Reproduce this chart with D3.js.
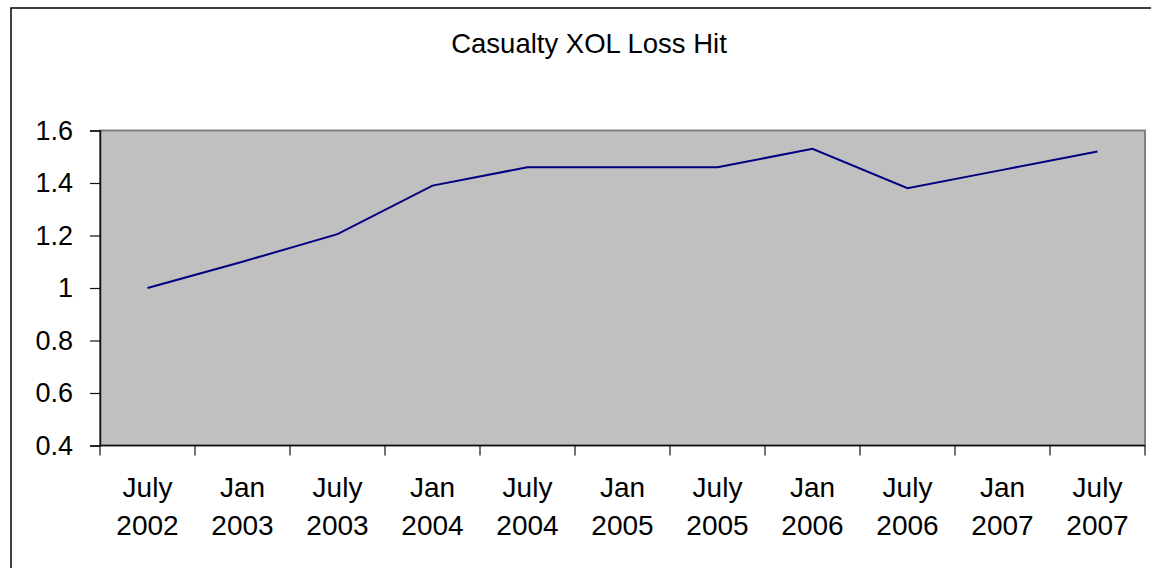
<!DOCTYPE html>
<html>
<head>
<meta charset="utf-8">
<script src="https://cdn.jsdelivr.net/npm/d3@7"></script>
<style>
  body { margin: 0; background: #fff; }
  text { font-family: "Liberation Sans", Arial, sans-serif; fill: #000; }
</style>
</head>
<body>
<div id="container"></div>
<script>
/* DATA */
const months = ["July 2002", "Jan 2003", "July 2003", "Jan 2004", "July 2004", "Jan 2005",
                "July 2005", "Jan 2006", "July 2006", "Jan 2007", "July 2007"];
const lossHit = [1.0, 1.1, 1.205, 1.39, 1.46, 1.46, 1.46, 1.53, 1.38, 1.45, 1.52];
const yTicks = [0.4, 0.6, 0.8, 1, 1.2, 1.4, 1.6];

/* CONSTANTS */
const width = 1151, height = 568;
const plot = { left: 100, right: 1145, top: 130.5, bottom: 445.5 };

const svg = d3.select("#container")
  .append("svg")
  .attr("width", width)
  .attr("height", height);

// outer frame (runs off the right and bottom edge)
svg.append("rect")
  .attr("x", 11).attr("y", 8)
  .attr("width", 1200).attr("height", 600)
  .attr("fill", "none")
  .attr("stroke", "#000")
  .attr("stroke-width", 1.5);

/* SCALES */
const xScale = d3.scaleBand()
  .domain(months)
  .range([plot.left, plot.right])
  .padding(0);

const yScale = d3.scaleLinear()
  .domain([0.4, 1.6])
  .range([plot.bottom, plot.top]);

// plot area
svg.append("rect")
  .attr("x", plot.left).attr("y", plot.top)
  .attr("width", plot.right - plot.left)
  .attr("height", plot.bottom - plot.top)
  .attr("fill", "#c0c0c0")
  .attr("stroke", "#808080")
  .attr("stroke-width", 2);

// title
svg.append("text")
  .attr("x", 589).attr("y", 53)
  .attr("text-anchor", "middle")
  .style("font-size", "27.5px")
  .text("Casualty XOL Loss Hit");

// y axis
const yAxis = d3.axisLeft(yScale)
  .tickValues(yTicks)
  .tickSize(10)
  .tickPadding(17)
  .tickFormat(d3.format("~g"));

const gy = svg.append("g")
  .attr("transform", `translate(${plot.left},0)`)
  .call(yAxis);
gy.select(".domain").attr("stroke", "#111").attr("stroke-width", 1.5);
gy.selectAll(".tick line").attr("stroke", "#111").attr("stroke-width", 1.2);
gy.selectAll(".tick text")
  .style("font-size", "27px")
  .attr("font-family", null);

// x axis: ticks sit between categories
const gx = svg.append("g")
  .attr("transform", `translate(0,${plot.bottom})`);
gx.append("line")
  .attr("x1", plot.left).attr("x2", plot.right)
  .attr("stroke", "#111").attr("stroke-width", 1.5);
const edges = months.map(m => xScale(m)).concat([xScale.range()[1]]);
gx.selectAll(".edge")
  .data(edges)
  .join("line")
  .attr("class", "edge")
  .attr("x1", d => d).attr("x2", d => d)
  .attr("y1", 0).attr("y2", 10)
  .attr("stroke", "#111").attr("stroke-width", 1.2);

const labels = gx.selectAll(".lbl")
  .data(months)
  .join("text")
  .attr("class", "lbl")
  .attr("text-anchor", "middle")
  .style("font-size", "28px")
  .attr("transform", d => `translate(${xScale(d) + xScale.bandwidth() / 2},0)`);
labels.append("tspan")
  .attr("x", 0).attr("y", 51)
  .text(d => d.split(" ")[0]);
labels.append("tspan")
  .attr("x", 0).attr("y", 89)
  .text(d => d.split(" ")[1]);

// line
const line = d3.line()
  .x((d, i) => xScale(months[i]) + xScale.bandwidth() / 2)
  .y(d => yScale(d));

svg.append("path")
  .datum(lossHit)
  .attr("d", line)
  .attr("fill", "none")
  .attr("stroke", "#000080")
  .attr("stroke-width", 2);
</script>
</body>
</html>
